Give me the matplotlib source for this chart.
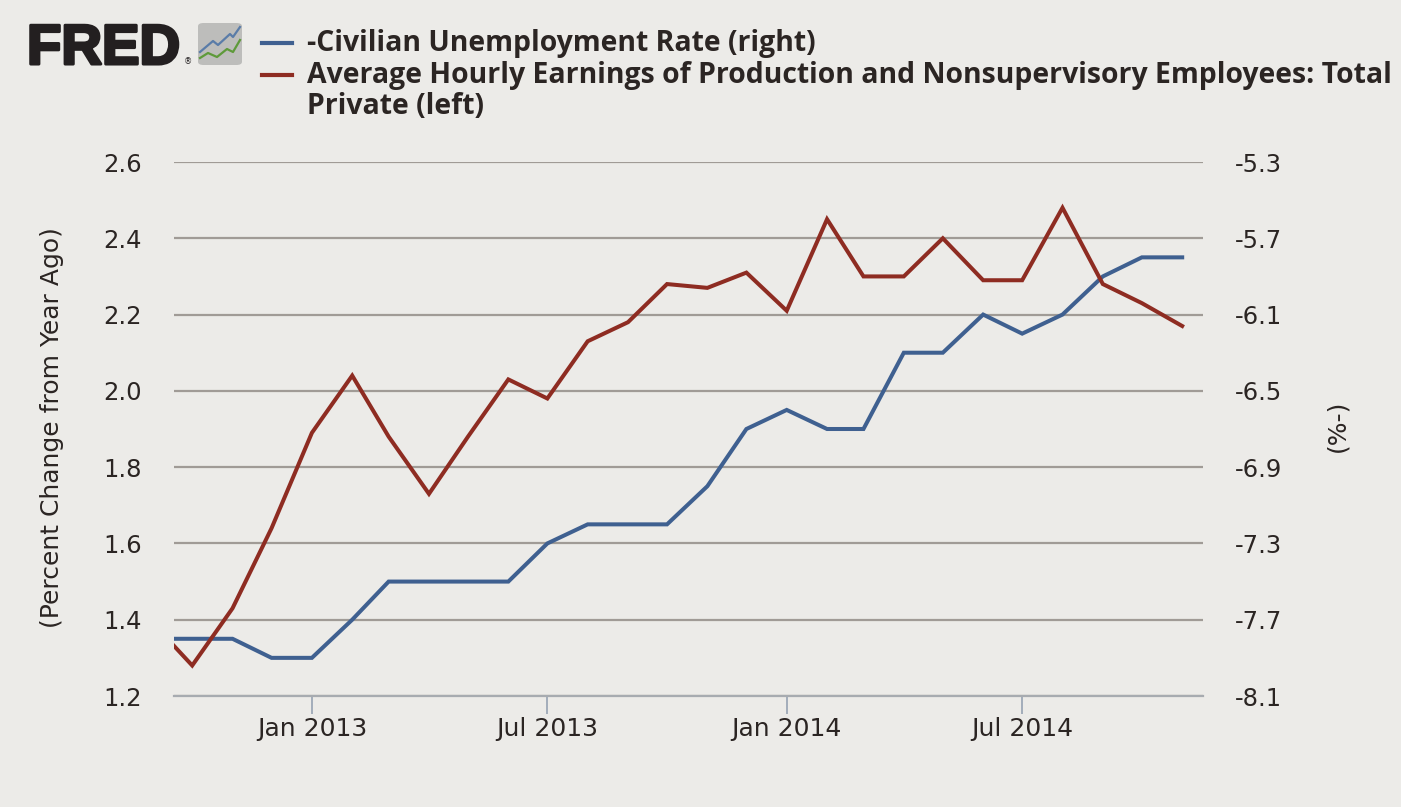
import pandas as pd
import matplotlib
matplotlib.use("Agg")
import matplotlib.pyplot as plt
import matplotlib.dates as mdates
import matplotlib.patheffects as pe
from matplotlib.lines import Line2D
from matplotlib.patches import FancyBboxPatch
from matplotlib.ticker import FuncFormatter

# monthly values, Sep 2012 .. Nov 2014
months = pd.date_range("2012-09-01", "2014-11-01", freq="MS")
earnings_pch = [1.39, 1.28, 1.43, 1.64,
                1.89, 2.04, 1.88, 1.73, 1.88, 2.03, 1.98, 2.13, 2.18, 2.28, 2.27, 2.31,
                2.21, 2.45, 2.30, 2.30, 2.40, 2.29, 2.29, 2.48, 2.28, 2.23, 2.17]
neg_unrate = [-7.8, -7.8, -7.8, -7.9,
              -7.9, -7.7, -7.5, -7.5, -7.5, -7.5, -7.3, -7.2, -7.2, -7.2, -7.0, -6.7,
              -6.6, -6.7, -6.7, -6.3, -6.3, -6.1, -6.2, -6.1, -5.9, -5.8, -5.8]

left_ticks = [1.2, 1.4, 1.6, 1.8, 2.0, 2.2, 2.4, 2.6]
right_ticks = [-8.1, -7.7, -7.3, -6.9, -6.5, -6.1, -5.7, -5.3]
x_start, x_end = pd.Timestamp("2012-09-17"), pd.Timestamp("2014-11-17")

label_unrate = "-Civilian Unemployment Rate (right)"
label_earn = "Average Hourly Earnings of Production and Nonsupervisory Employees: Total"
label_earn2 = "Private (left)"

BG = "#ecebe8"
BLUE = "#3f6090"
RED = "#8e2c22"
TXT = "#2b2523"
GRID = "#a09b96"

plt.rcParams["axes.unicode_minus"] = False
plt.rcParams["font.family"] = ["DejaVu Sans"]

W, H = 1401, 807
fig = plt.figure(figsize=(W / 100, H / 100), dpi=100, facecolor=BG)

def px(x, y):
    return x / W, 1 - y / H

ax = fig.add_axes([174 / W, 1 - 696 / H, 1029 / W, 534 / H])
ax2 = ax.twinx()
ax.set_zorder(2)
ax2.set_zorder(1)
ax.patch.set_visible(False)

# right axis: gridlines + blue line (drawn under)
ax2.plot(months, neg_unrate, color=BLUE, lw=2.9, solid_joinstyle="miter")
ax2.set_ylim(right_ticks[0], right_ticks[-1])
ax2.set_yticks(right_ticks)
ax2.yaxis.set_major_formatter(FuncFormatter(lambda v, p: "%.1f" % v))
ax2.yaxis.grid(True, color=GRID, lw=1.6)
ax2.tick_params(axis="y", length=0, pad=23, labelsize=17.5, labelcolor=TXT)
for s in ax2.spines.values():
    s.set_visible(False)

# left axis: red line on top
ax.plot(months, earnings_pch, color=RED, lw=2.9, solid_joinstyle="miter")
ax.set_ylim(left_ticks[0], left_ticks[-1])
ax.set_yticks(left_ticks)
ax.yaxis.set_major_formatter(FuncFormatter(lambda v, p: "%.1f" % v))
ax.tick_params(axis="y", length=0, pad=23, labelsize=17.5, labelcolor=TXT)
ax.set_xlim(x_start, x_end)
ax.xaxis.set_major_locator(mdates.MonthLocator(bymonth=[1, 7]))
ax.xaxis.set_major_formatter(mdates.DateFormatter("%b %Y"))
ax.tick_params(axis="x", length=13, width=1.4, color="#a3adba", pad=2,
               labelsize=18, labelcolor=TXT)
for k in ["top", "left", "right"]:
    ax.spines[k].set_visible(False)
ax.spines["bottom"].set_color("#a7abb0")
ax.spines["bottom"].set_linewidth(1.6)

# axis titles
fig.text(*px(52, 428), "(Percent Change from Year Ago)", rotation=90,
         ha="center", va="center", fontsize=18, color=TXT)
fig.text(*px(1337, 426), "(%-)", rotation=90, ha="center", va="center",
         fontsize=18, color=TXT)

# legend
fig.add_artist(Line2D([262 / W, 292 / W], [1 - 43 / H] * 2, color=BLUE, lw=3))
fig.add_artist(Line2D([262 / W, 292 / W], [1 - 75 / H] * 2, color=RED, lw=3))
leg_kw = dict(ha="left", va="center", fontsize=18, color=TXT,
              fontweight="bold", family=["Open Sans", "DejaVu Sans"])
t1 = fig.text(*px(307, 43), label_unrate, **leg_kw)
t2 = fig.text(*px(307, 75), label_earn, **leg_kw)
t3 = fig.text(*px(307, 107), label_earn2, **leg_kw)
fig.canvas.draw()
w = t2.get_window_extent(fig.canvas.get_renderer()).width
for t in (t1, t2, t3):
    t.set_fontsize(18 * 1085 / w)

# FRED logo
fig.text(*px(27, 64), "FRED", ha="left", va="baseline", fontsize=40.5,
         fontweight="bold", family=["Liberation Sans", "DejaVu Sans"], color="#231f20",
         path_effects=[pe.withStroke(linewidth=2.2, foreground="#231f20")])
fig.text(*px(184, 64), "\u00ae", ha="left", va="baseline", fontsize=6, color="#231f20")
fig.add_artist(FancyBboxPatch(px(198, 65), 44 / W, 42 / H,
                              boxstyle="round,pad=0,rounding_size=0.004",
                              transform=fig.transFigure, fc="#bdbdbb", ec="none"))
fig.add_artist(Line2D([px(x, 0)[0] for x in (200, 213, 218, 230, 233, 240)],
                      [px(0, y)[1] for y in (52, 41, 45, 34, 37, 27)],
                      color="#5a7ca8", lw=1.6))
fig.add_artist(Line2D([px(x, 0)[0] for x in (200, 208, 217, 227, 233, 240)],
                      [px(0, y)[1] for y in (58, 53, 57, 49, 52, 40)],
                      color="#5e9a3a", lw=1.6))

fig.savefig("out.png", dpi=100, facecolor=BG)
